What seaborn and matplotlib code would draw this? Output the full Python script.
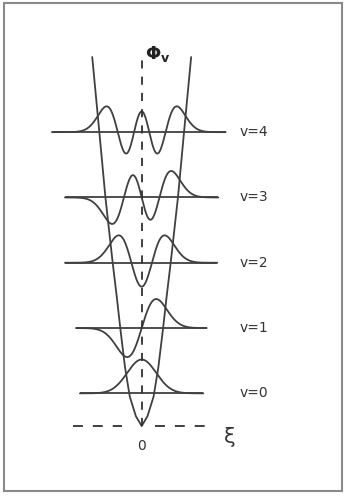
import numpy as np
import pandas as pd
import matplotlib
matplotlib.use("Agg")
import matplotlib.pyplot as plt
from matplotlib.patches import Rectangle
from math import factorial, pi, sqrt
import seaborn as sns

# Vibrational quantum numbers and their energies (units of h*nu, E = v + 1/2)
levels = [0, 1, 2, 3, 4]
level_energy = [0.5, 1.5, 2.5, 3.5, 4.5]
level_labels = ["v=0", "v=1", "v=2", "v=3", "v=4"]
# horizontal extent of each energy level line (in xi)
level_left = [-4.26, -4.53, -5.29, -5.29, -6.19]
level_right = [4.25, 4.48, 5.21, 5.28, 5.79]

# potential well: half-width (xi) versus height (energy)
well_xi = [0.0, 0.40, 0.82, 1.15, 1.45, 1.73, 2.00, 2.50, 2.92, 3.41]
well_E = [0.0, 0.15, 0.45, 0.90, 1.45, 2.00, 2.50, 3.50, 4.50, 5.65]

# vertical scale of the wavefunctions relative to the energy axis
psi_scale = 0.69

sns.set_style("white")
plt.rcParams["font.family"] = ["DejaVu Sans"]

fig = plt.figure(figsize=(3.45, 4.96), dpi=100)
ax = fig.add_axes([0, 0, 1, 1])
ax.set_xlim(-9.77, 14.02)
ax.set_ylim(-1.072, 6.524)
ax.axis("off")

ink = "#404040"
lw = 1.3


def hermite_function(n, x):
    coef = np.zeros(n + 1)
    coef[n] = 1.0
    norm = 1.0 / sqrt(2.0 ** n * factorial(n) * sqrt(pi))
    return norm * np.polynomial.hermite.hermval(x, coef) * np.exp(-x ** 2 / 2)


# energy levels and wavefunctions
frames = []
for v, E, xl, xr in zip(levels, level_energy, level_left, level_right):
    ax.hlines(E, xl, xr, color=ink, lw=lw)
    xs = np.linspace(xl, xr, 600)
    frames.append(pd.DataFrame({"xi": xs,
                                "y": E + psi_scale * hermite_function(v, xs),
                                "v": v}))
waves = pd.concat(frames, ignore_index=True)
sns.lineplot(data=waves, x="xi", y="y", units="v", estimator=None,
             color=ink, lw=lw, ax=ax, legend=False)

# potential well
well = pd.DataFrame({
    "xi": [-x for x in well_xi[::-1]] + well_xi[1:],
    "E": well_E[::-1] + well_E[1:],
})
sns.lineplot(data=well, x="xi", y="E", sort=False, estimator=None,
             color=ink, lw=lw, ax=ax)

# dashed axes
ax.plot([0, 0], [0.0, 5.68], color="#303030", lw=1.3, dashes=(4.5, 4.5))
ax.plot([-4.76, -1.38], [0, 0], color="#303030", lw=1.3, dashes=(5.5, 5.5))
ax.plot([0.92, 4.58], [0, 0], color="#303030", lw=1.3, dashes=(5.5, 5.5))

# labels
for E, lab in zip(level_energy, level_labels):
    ax.text(6.78, E, lab, ha="left", va="center", fontsize=10, color="#333333")
ax.text(0, -0.306, "0", ha="center", va="center", fontsize=10, color="#333333")
ax.text(6.09, -0.17, "ξ", ha="center", va="center", fontsize=15, color="#333333")
ax.text(1.12, 5.70, r"$\mathbf{\Phi}_{\mathbf{v}}$", ha="center", va="center",
        fontsize=13, color="#222222")

# outer frame
fig.patches.append(Rectangle((4 / 345, 1 - 491 / 496), 338 / 345, 488 / 496,
                             transform=fig.transFigure, fill=False,
                             edgecolor="#8a8a8a", lw=1.5))

fig.savefig("out.png", dpi=100)
